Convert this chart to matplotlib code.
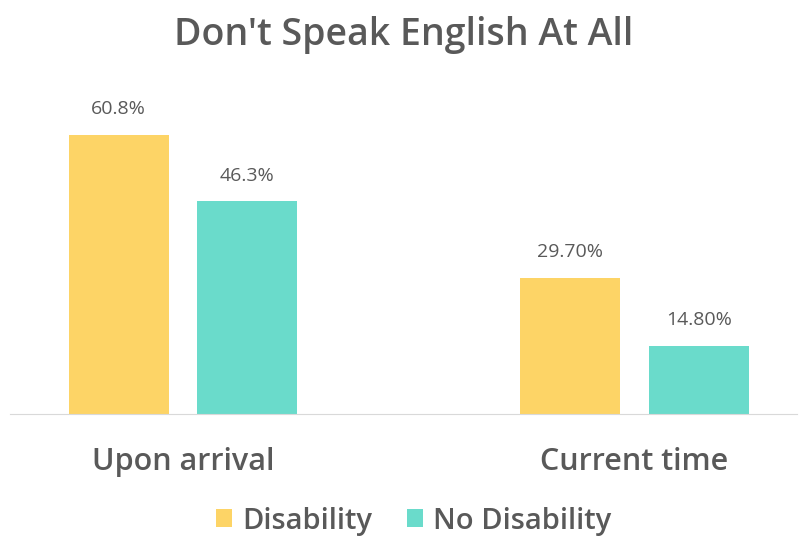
import numpy as np
import matplotlib.pyplot as plt

# Datos del gráfico
categorias = ["Upon arrival", "Current time"]
series = ["Disability", "No Disability"]
disability = [60.8, 29.7]
no_disability = [46.3, 14.8]
etiquetas_disability = ["60.8%", "29.70%"]
etiquetas_no_disability = ["46.3%", "14.80%"]

amarillo = "#FDD466"
turquesa = "#6ADBCB"
gris_texto = "#595959"

fig = plt.figure(figsize=(8.08, 5.6), dpi=100)
ax = fig.add_axes([10 / 808, 146 / 560, 787 / 808, 0.5738])

x = np.arange(len(categorias))
ancho = 0.2215
desp = 0.1423

b1 = ax.bar(x - desp, disability, ancho, color=amarillo, label=series[0])
b2 = ax.bar(x + desp, no_disability, ancho, color=turquesa, label=series[1])

for barras, etiquetas in [(b1, etiquetas_disability), (b2, etiquetas_no_disability)]:
    for barra, texto in zip(barras, etiquetas):
        ax.annotate(texto, (barra.get_x() + barra.get_width() / 2, barra.get_height()),
                    xytext=(0, 12), textcoords="offset points", ha="center", va="bottom",
                    fontsize=14, color=gris_texto, family="Open Sans")

ax.set_xlim(-0.383, 1.36)
ax.set_ylim(0, 70)
ax.set_yticks([])
ax.set_xticks(x)
ax.set_xticklabels(categorias, fontsize=22, color=gris_texto, family="Open Sans",
                   fontweight="semibold")
ax.tick_params(axis="x", length=0, pad=24)
for lado in ["top", "right", "left"]:
    ax.spines[lado].set_visible(False)
ax.spines["bottom"].set_color("#D9D9D9")

fig.text(0.5, 1 - 35 / 560, "Don't Speak English At All", ha="center", va="center",
         fontsize=27, color=gris_texto, family="Open Sans", fontweight="semibold")

ley = fig.legend(loc="center", bbox_to_anchor=(0.512, 1 - 521 / 560), ncol=2, frameon=False,
                 handlelength=0.55, handleheight=0.55, handletextpad=0.35, columnspacing=1.2,
                 prop={"family": "Open Sans", "size": 21, "weight": "semibold"})
for t in ley.get_texts():
    t.set_color(gris_texto)

plt.savefig("out.png", dpi=100)
